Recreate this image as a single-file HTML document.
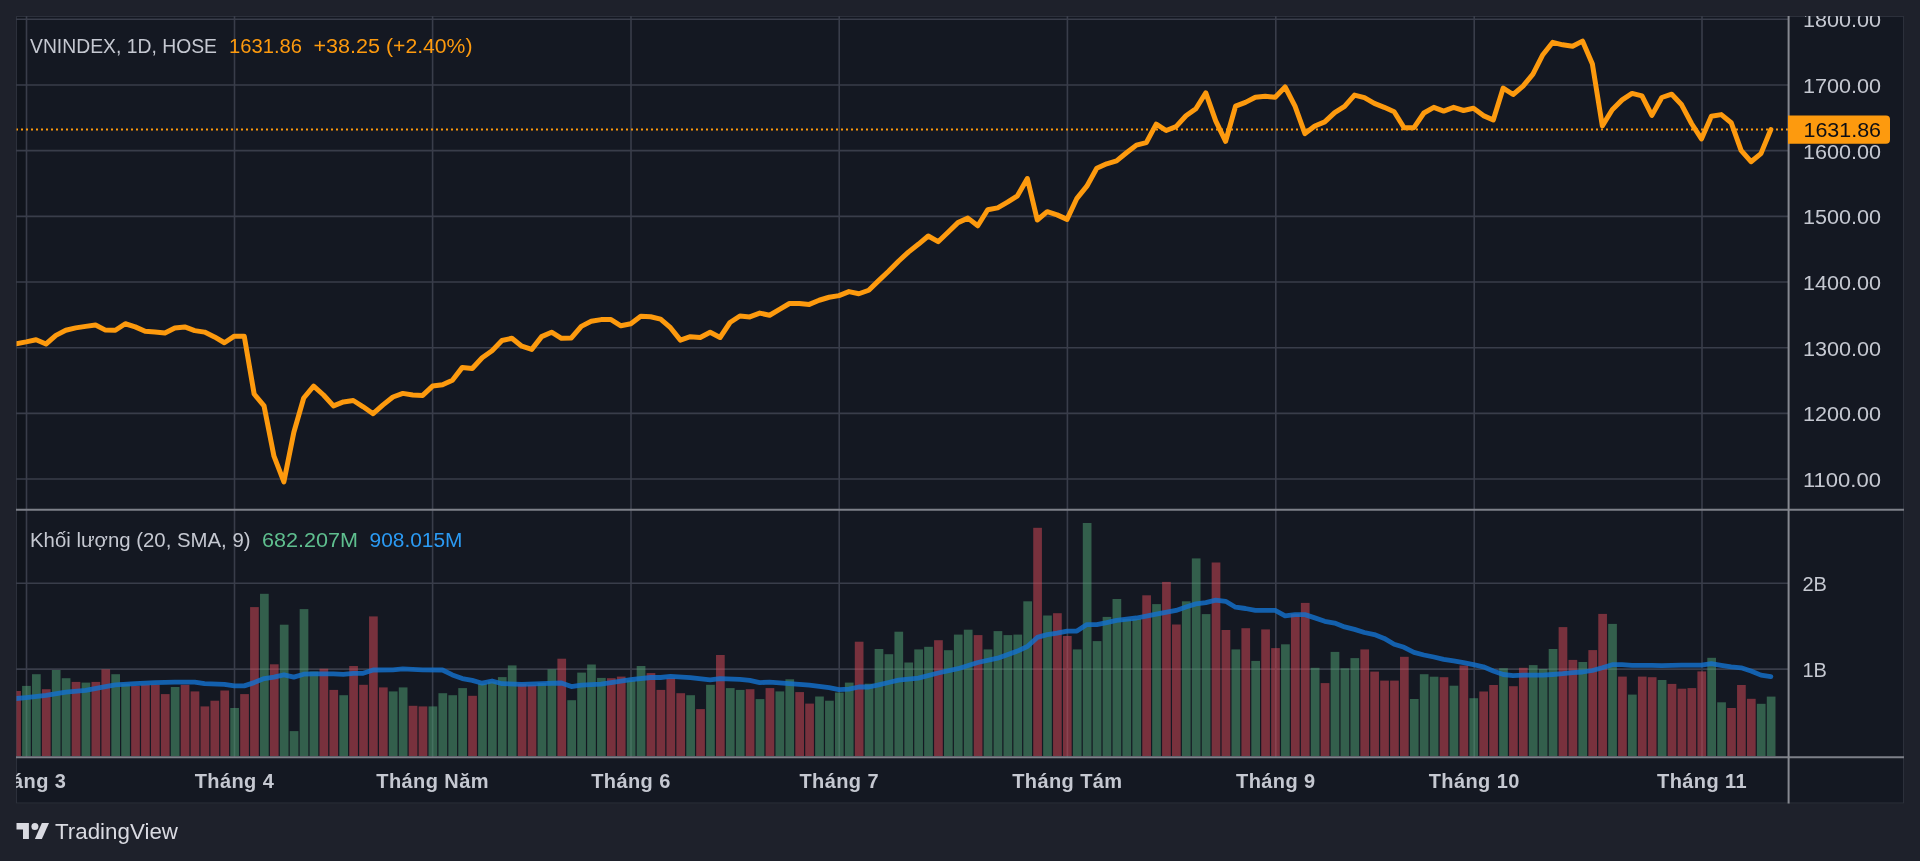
<!DOCTYPE html><html><head><meta charset="utf-8"><style>html,body{margin:0;padding:0;background:#1e212b;width:1920px;height:861px;overflow:hidden}svg{position:absolute;left:0;top:0;display:block;will-change:transform}text{font-family:"Liberation Sans",sans-serif}</style></head><body>
<svg width="1920" height="861" viewBox="0 0 1920 861">
<defs><clipPath id="cp"><rect x="16.5" y="16.5" width="1772" height="740.5"/></clipPath><clipPath id="pp"><rect x="16" y="16" width="1887" height="786"/></clipPath></defs>
<rect x="16" y="16" width="1888" height="787.5" fill="#141822"/>
<rect x="16.5" y="16.5" width="1887" height="786.5" fill="none" stroke="#2c303b" stroke-width="1"/>
<rect x="17" y="17" width="8.7" height="740" fill="rgba(0,0,0,0.16)"/>
<path d="M16 479.05H1788M16 413.37H1788M16 347.69H1788M16 282.01H1788M16 216.33H1788M16 150.65H1788M16 84.97H1788M16 19.29H1788M16 583.30H1788M16 669.10H1788M26.50 16V757M234.50 16V757M432.60 16V757M631.00 16V757M839.20 16V757M1067.40 16V757M1275.80 16V757M1474.20 16V757M1702.00 16V757" stroke="#393d4a" stroke-width="1.6" fill="none"/>
<g clip-path="url(#cp)">
<g fill="rgba(220,74,88,0.5)"><rect x="12.19" y="691.00" width="8.7" height="65.00"/><rect x="41.93" y="689.20" width="8.7" height="66.80"/><rect x="71.67" y="681.90" width="8.7" height="74.10"/><rect x="91.49" y="681.90" width="8.7" height="74.10"/><rect x="101.40" y="669.30" width="8.7" height="86.70"/><rect x="131.14" y="685.90" width="8.7" height="70.10"/><rect x="141.06" y="684.80" width="8.7" height="71.20"/><rect x="150.97" y="684.80" width="8.7" height="71.20"/><rect x="160.88" y="694.10" width="8.7" height="61.90"/><rect x="180.71" y="684.80" width="8.7" height="71.20"/><rect x="190.62" y="691.40" width="8.7" height="64.60"/><rect x="200.53" y="706.40" width="8.7" height="49.60"/><rect x="210.45" y="700.70" width="8.7" height="55.30"/><rect x="220.36" y="690.50" width="8.7" height="65.50"/><rect x="240.19" y="694.10" width="8.7" height="61.90"/><rect x="250.10" y="607.10" width="8.7" height="148.90"/><rect x="269.93" y="664.30" width="8.7" height="91.70"/><rect x="319.49" y="668.70" width="8.7" height="87.30"/><rect x="329.40" y="689.90" width="8.7" height="66.10"/><rect x="349.23" y="666.00" width="8.7" height="90.00"/><rect x="359.14" y="684.80" width="8.7" height="71.20"/><rect x="369.05" y="616.40" width="8.7" height="139.60"/><rect x="378.97" y="687.40" width="8.7" height="68.60"/><rect x="408.71" y="705.80" width="8.7" height="50.20"/><rect x="418.62" y="706.40" width="8.7" height="49.60"/><rect x="468.19" y="695.80" width="8.7" height="60.20"/><rect x="517.75" y="683.70" width="8.7" height="72.30"/><rect x="527.66" y="684.80" width="8.7" height="71.20"/><rect x="557.40" y="658.70" width="8.7" height="97.30"/><rect x="606.97" y="678.20" width="8.7" height="77.80"/><rect x="616.88" y="676.60" width="8.7" height="79.40"/><rect x="646.62" y="673.10" width="8.7" height="82.90"/><rect x="656.53" y="689.90" width="8.7" height="66.10"/><rect x="666.45" y="678.20" width="8.7" height="77.80"/><rect x="676.36" y="693.20" width="8.7" height="62.80"/><rect x="696.18" y="709.10" width="8.7" height="46.90"/><rect x="716.01" y="655.00" width="8.7" height="101.00"/><rect x="745.75" y="689.20" width="8.7" height="66.80"/><rect x="765.58" y="688.10" width="8.7" height="67.90"/><rect x="795.31" y="692.10" width="8.7" height="63.90"/><rect x="805.23" y="703.60" width="8.7" height="52.40"/><rect x="854.79" y="641.70" width="8.7" height="114.30"/><rect x="934.10" y="640.20" width="8.7" height="115.80"/><rect x="973.75" y="635.10" width="8.7" height="120.90"/><rect x="1033.23" y="527.80" width="8.7" height="228.20"/><rect x="1053.05" y="613.20" width="8.7" height="142.80"/><rect x="1062.97" y="636.00" width="8.7" height="120.00"/><rect x="1142.27" y="595.30" width="8.7" height="160.70"/><rect x="1162.10" y="581.90" width="8.7" height="174.10"/><rect x="1172.01" y="624.50" width="8.7" height="131.50"/><rect x="1211.66" y="562.50" width="8.7" height="193.50"/><rect x="1221.57" y="630.00" width="8.7" height="126.00"/><rect x="1241.40" y="628.20" width="8.7" height="127.80"/><rect x="1261.23" y="629.40" width="8.7" height="126.60"/><rect x="1271.14" y="648.10" width="8.7" height="107.90"/><rect x="1290.96" y="614.10" width="8.7" height="141.90"/><rect x="1300.88" y="602.90" width="8.7" height="153.10"/><rect x="1320.70" y="683.10" width="8.7" height="72.90"/><rect x="1360.36" y="649.40" width="8.7" height="106.60"/><rect x="1370.27" y="671.60" width="8.7" height="84.40"/><rect x="1380.18" y="680.60" width="8.7" height="75.40"/><rect x="1390.09" y="680.60" width="8.7" height="75.40"/><rect x="1400.01" y="656.80" width="8.7" height="99.20"/><rect x="1439.66" y="677.20" width="8.7" height="78.80"/><rect x="1459.49" y="665.50" width="8.7" height="90.50"/><rect x="1479.31" y="691.50" width="8.7" height="64.50"/><rect x="1489.22" y="685.00" width="8.7" height="71.00"/><rect x="1509.05" y="686.20" width="8.7" height="69.80"/><rect x="1518.96" y="667.80" width="8.7" height="88.20"/><rect x="1558.62" y="627.10" width="8.7" height="128.90"/><rect x="1568.53" y="659.90" width="8.7" height="96.10"/><rect x="1588.35" y="650.10" width="8.7" height="105.90"/><rect x="1598.27" y="613.90" width="8.7" height="142.10"/><rect x="1618.09" y="676.60" width="8.7" height="79.40"/><rect x="1637.92" y="676.60" width="8.7" height="79.40"/><rect x="1647.83" y="677.20" width="8.7" height="78.80"/><rect x="1667.66" y="683.90" width="8.7" height="72.10"/><rect x="1677.57" y="688.70" width="8.7" height="67.30"/><rect x="1687.48" y="688.10" width="8.7" height="67.90"/><rect x="1697.40" y="671.40" width="8.7" height="84.60"/><rect x="1727.14" y="708.00" width="8.7" height="48.00"/><rect x="1737.05" y="685.00" width="8.7" height="71.00"/><rect x="1746.96" y="698.80" width="8.7" height="57.20"/></g>
<g fill="rgba(82,166,118,0.5)"><rect x="22.10" y="685.90" width="8.7" height="70.10"/><rect x="32.01" y="674.20" width="8.7" height="81.80"/><rect x="51.84" y="670.00" width="8.7" height="86.00"/><rect x="61.75" y="678.20" width="8.7" height="77.80"/><rect x="81.58" y="682.60" width="8.7" height="73.40"/><rect x="111.32" y="674.20" width="8.7" height="81.80"/><rect x="121.23" y="683.70" width="8.7" height="72.30"/><rect x="170.79" y="687.00" width="8.7" height="69.00"/><rect x="230.27" y="708.00" width="8.7" height="48.00"/><rect x="260.01" y="593.80" width="8.7" height="162.20"/><rect x="279.84" y="624.70" width="8.7" height="131.30"/><rect x="289.75" y="731.10" width="8.7" height="24.90"/><rect x="299.66" y="609.10" width="8.7" height="146.90"/><rect x="309.58" y="671.50" width="8.7" height="84.50"/><rect x="339.32" y="695.20" width="8.7" height="60.80"/><rect x="388.88" y="691.40" width="8.7" height="64.60"/><rect x="398.79" y="687.40" width="8.7" height="68.60"/><rect x="428.53" y="706.40" width="8.7" height="49.60"/><rect x="438.45" y="693.20" width="8.7" height="62.80"/><rect x="448.36" y="695.20" width="8.7" height="60.80"/><rect x="458.27" y="688.10" width="8.7" height="67.90"/><rect x="478.10" y="683.70" width="8.7" height="72.30"/><rect x="488.01" y="681.50" width="8.7" height="74.50"/><rect x="497.92" y="677.10" width="8.7" height="78.90"/><rect x="507.84" y="665.40" width="8.7" height="90.60"/><rect x="537.58" y="683.00" width="8.7" height="73.00"/><rect x="547.49" y="669.30" width="8.7" height="86.70"/><rect x="567.32" y="700.20" width="8.7" height="55.80"/><rect x="577.23" y="672.60" width="8.7" height="83.40"/><rect x="587.14" y="664.50" width="8.7" height="91.50"/><rect x="597.05" y="677.90" width="8.7" height="78.10"/><rect x="626.79" y="680.40" width="8.7" height="75.60"/><rect x="636.71" y="666.00" width="8.7" height="90.00"/><rect x="686.27" y="695.20" width="8.7" height="60.80"/><rect x="706.10" y="684.80" width="8.7" height="71.20"/><rect x="725.92" y="688.10" width="8.7" height="67.90"/><rect x="735.84" y="689.90" width="8.7" height="66.10"/><rect x="755.66" y="699.10" width="8.7" height="56.90"/><rect x="775.49" y="691.40" width="8.7" height="64.60"/><rect x="785.40" y="679.30" width="8.7" height="76.70"/><rect x="815.14" y="696.50" width="8.7" height="59.50"/><rect x="825.05" y="700.70" width="8.7" height="55.30"/><rect x="834.97" y="692.50" width="8.7" height="63.50"/><rect x="844.88" y="682.60" width="8.7" height="73.40"/><rect x="864.71" y="683.70" width="8.7" height="72.30"/><rect x="874.62" y="649.00" width="8.7" height="107.00"/><rect x="884.53" y="654.20" width="8.7" height="101.80"/><rect x="894.44" y="631.70" width="8.7" height="124.30"/><rect x="904.36" y="662.50" width="8.7" height="93.50"/><rect x="914.27" y="649.40" width="8.7" height="106.60"/><rect x="924.18" y="646.80" width="8.7" height="109.20"/><rect x="944.01" y="650.20" width="8.7" height="105.80"/><rect x="953.92" y="634.60" width="8.7" height="121.40"/><rect x="963.84" y="629.70" width="8.7" height="126.30"/><rect x="983.66" y="649.40" width="8.7" height="106.60"/><rect x="993.57" y="631.10" width="8.7" height="124.90"/><rect x="1003.49" y="635.10" width="8.7" height="120.90"/><rect x="1013.40" y="634.60" width="8.7" height="121.40"/><rect x="1023.31" y="601.30" width="8.7" height="154.70"/><rect x="1043.14" y="615.50" width="8.7" height="140.50"/><rect x="1072.88" y="649.40" width="8.7" height="106.60"/><rect x="1082.79" y="523.00" width="8.7" height="233.00"/><rect x="1092.70" y="641.10" width="8.7" height="114.90"/><rect x="1102.62" y="616.90" width="8.7" height="139.10"/><rect x="1112.53" y="599.00" width="8.7" height="157.00"/><rect x="1122.44" y="618.90" width="8.7" height="137.10"/><rect x="1132.36" y="618.90" width="8.7" height="137.10"/><rect x="1152.18" y="604.10" width="8.7" height="151.90"/><rect x="1181.92" y="601.30" width="8.7" height="154.70"/><rect x="1191.83" y="558.40" width="8.7" height="197.60"/><rect x="1201.75" y="614.10" width="8.7" height="141.90"/><rect x="1231.49" y="649.40" width="8.7" height="106.60"/><rect x="1251.31" y="660.90" width="8.7" height="95.10"/><rect x="1281.05" y="644.30" width="8.7" height="111.70"/><rect x="1310.79" y="667.80" width="8.7" height="88.20"/><rect x="1330.62" y="651.90" width="8.7" height="104.10"/><rect x="1340.53" y="668.30" width="8.7" height="87.70"/><rect x="1350.44" y="658.10" width="8.7" height="97.90"/><rect x="1409.92" y="699.00" width="8.7" height="57.00"/><rect x="1419.83" y="674.20" width="8.7" height="81.80"/><rect x="1429.75" y="676.70" width="8.7" height="79.30"/><rect x="1449.57" y="685.70" width="8.7" height="70.30"/><rect x="1469.40" y="698.20" width="8.7" height="57.80"/><rect x="1499.14" y="668.20" width="8.7" height="87.80"/><rect x="1528.88" y="665.10" width="8.7" height="90.90"/><rect x="1538.79" y="668.90" width="8.7" height="87.10"/><rect x="1548.70" y="649.00" width="8.7" height="107.00"/><rect x="1578.44" y="662.00" width="8.7" height="94.00"/><rect x="1608.18" y="623.90" width="8.7" height="132.10"/><rect x="1628.01" y="694.60" width="8.7" height="61.40"/><rect x="1657.75" y="680.00" width="8.7" height="76.00"/><rect x="1707.31" y="657.80" width="8.7" height="98.20"/><rect x="1717.22" y="702.30" width="8.7" height="53.70"/><rect x="1756.88" y="703.80" width="8.7" height="52.20"/><rect x="1766.79" y="696.60" width="8.7" height="59.40"/></g>
<polyline points="16.24,698.50 26.15,697.60 45.98,695.40 65.80,692.10 85.63,690.30 105.45,686.60 115.37,684.80 135.19,683.70 155.02,682.60 174.84,682.10 194.67,682.10 204.58,683.70 224.41,684.30 234.32,685.90 244.24,685.90 254.15,682.60 264.06,678.60 273.98,677.10 283.89,674.90 293.80,677.10 303.71,674.20 313.63,673.80 333.45,673.80 343.37,674.40 353.28,673.30 363.19,673.30 373.10,670.00 392.93,669.80 402.84,668.90 422.67,669.80 442.50,670.00 452.41,674.90 462.32,678.60 472.24,680.40 482.15,683.20 492.06,681.00 501.97,683.70 521.80,684.30 541.63,683.70 561.45,683.00 571.37,686.60 581.28,685.20 601.10,684.10 611.02,682.60 630.84,679.70 650.67,677.50 660.58,677.50 670.50,676.40 690.32,677.70 710.15,679.90 720.06,678.60 739.89,679.30 749.80,680.40 759.71,682.60 769.62,682.10 789.45,683.70 809.28,685.20 829.10,687.70 839.02,689.60 848.93,689.20 858.84,687.00 868.75,687.00 878.67,684.80 888.58,682.50 898.49,680.10 918.32,678.10 938.15,673.00 957.97,668.70 977.80,662.50 997.62,658.20 1017.45,651.10 1027.36,646.50 1037.28,637.40 1047.19,634.60 1057.10,633.10 1067.02,631.10 1076.93,631.10 1086.84,624.60 1096.75,624.60 1106.67,622.60 1116.58,620.30 1136.41,618.00 1146.32,616.10 1156.23,614.10 1176.06,610.40 1185.97,607.00 1195.88,603.90 1205.80,602.60 1215.71,600.10 1225.62,601.30 1235.54,607.20 1245.45,608.50 1255.36,610.30 1265.28,610.30 1275.19,610.30 1285.10,615.90 1295.01,614.60 1304.93,614.60 1314.84,617.90 1324.75,621.30 1334.67,623.10 1344.58,626.90 1354.49,629.40 1364.41,632.50 1374.32,634.60 1384.23,638.40 1394.14,644.30 1404.06,647.30 1413.97,652.40 1423.88,655.00 1433.80,657.00 1443.71,659.30 1453.62,660.90 1463.54,662.70 1473.45,664.70 1483.36,666.80 1493.27,671.00 1503.19,674.50 1513.10,675.60 1523.01,675.10 1532.93,675.10 1542.84,675.10 1552.75,674.50 1562.67,673.70 1572.58,672.60 1582.49,672.00 1592.40,670.50 1602.32,667.80 1612.23,664.70 1622.14,664.70 1632.06,665.30 1641.97,665.30 1651.88,665.30 1661.80,665.70 1671.71,665.30 1681.62,665.10 1691.53,665.10 1701.45,665.10 1711.36,663.60 1721.27,665.30 1731.19,666.80 1741.10,667.80 1751.01,671.00 1760.93,675.10 1770.84,676.60" fill="none" stroke="rgba(20,112,204,0.82)" stroke-width="4.8" stroke-linejoin="round" stroke-linecap="round"/>
<line x1="16" y1="129.6" x2="1788" y2="129.6" stroke="#fd9a0e" stroke-width="2" stroke-dasharray="2 3"/>
<polyline points="16.24,343.75 26.15,341.90 36.06,339.75 45.98,344.00 55.89,335.40 65.80,330.25 75.72,327.90 85.63,326.40 95.54,325.00 105.45,330.10 115.37,330.25 125.28,323.75 135.19,326.90 145.11,331.25 155.02,332.00 164.93,333.10 174.84,328.10 184.76,326.90 194.67,330.60 204.58,332.10 214.50,336.90 224.41,342.75 234.32,336.20 244.24,336.20 254.15,394.00 264.06,405.90 273.98,456.20 283.89,481.80 293.80,432.50 303.71,398.00 313.63,386.10 323.54,395.00 333.45,405.90 343.37,401.90 353.28,400.50 363.19,406.80 373.10,413.70 383.02,404.90 392.93,397.00 402.84,393.40 412.76,395.00 422.67,395.40 432.58,386.10 442.50,384.70 452.41,380.20 462.32,367.40 472.24,368.50 482.15,357.70 492.06,350.70 501.97,340.50 511.89,338.30 521.80,346.20 531.71,349.40 541.63,336.60 551.54,332.20 561.45,338.30 571.37,337.90 581.28,326.40 591.19,321.30 601.10,319.60 611.02,319.60 620.93,325.80 630.84,323.80 640.76,316.20 650.67,316.80 660.58,319.10 670.50,327.70 680.41,340.10 690.32,336.70 700.23,337.50 710.15,332.25 720.06,337.50 729.97,322.50 739.89,316.00 749.80,316.90 759.71,313.10 769.62,315.25 779.54,309.40 789.45,303.50 799.36,303.50 809.28,304.40 819.19,300.25 829.10,297.25 839.02,295.60 848.93,291.60 858.84,293.75 868.75,290.25 878.67,280.60 888.58,271.25 898.49,261.25 908.41,252.10 918.32,244.30 928.23,236.00 938.15,241.70 948.06,232.20 957.97,222.60 967.88,218.10 977.80,225.80 987.71,209.80 997.62,207.90 1007.54,202.20 1017.45,195.80 1027.36,178.50 1037.28,220.00 1047.19,211.70 1057.10,214.90 1067.02,219.40 1076.93,198.30 1086.84,186.20 1096.75,168.30 1106.67,163.80 1116.58,160.90 1126.49,152.80 1136.41,145.10 1146.32,142.60 1156.23,124.10 1166.15,130.50 1176.06,126.60 1185.97,115.80 1195.88,108.70 1205.80,92.80 1215.71,120.90 1225.62,141.30 1235.54,106.20 1245.45,102.40 1255.36,97.20 1265.28,96.30 1275.19,97.20 1285.10,87.00 1295.01,106.20 1304.93,133.60 1314.84,126.00 1324.75,121.90 1334.67,112.60 1344.58,106.30 1354.49,95.10 1364.41,97.70 1374.32,103.40 1384.23,107.30 1394.14,111.70 1404.06,127.70 1413.97,127.70 1423.88,113.00 1433.80,107.30 1443.71,111.10 1453.62,107.30 1463.54,110.50 1473.45,108.20 1483.36,115.60 1493.27,120.00 1503.19,88.10 1513.10,94.50 1523.01,86.20 1532.93,74.10 1542.84,54.70 1552.75,42.30 1562.67,44.80 1572.58,46.30 1582.49,41.10 1592.40,64.10 1602.32,125.90 1612.23,109.70 1622.14,99.90 1632.06,93.40 1641.97,95.90 1651.88,115.40 1661.80,97.50 1671.71,94.20 1681.62,104.80 1691.53,123.50 1701.45,138.90 1711.36,116.20 1721.27,114.60 1731.19,122.70 1741.10,150.30 1751.01,161.70 1760.93,153.60 1770.84,129.50" fill="none" stroke="#fd9a0e" stroke-width="5" stroke-linejoin="round" stroke-linecap="round"/>
</g>
<path d="M16 509.8H1904M16 757.2H1904" stroke="#7d8089" stroke-width="2"/>
<path d="M1788.6 16V803.5" stroke="#868991" stroke-width="2"/>
<g clip-path="url(#pp)">
<text x="30" y="52.8" font-size="20" fill="#c5c8d1" textLength="187" lengthAdjust="spacingAndGlyphs">VNINDEX, 1D, HOSE</text>
<text x="229" y="52.8" font-size="20" fill="#fd9a0e" textLength="73" lengthAdjust="spacingAndGlyphs">1631.86</text>
<text x="313.5" y="52.8" font-size="20" fill="#fd9a0e" textLength="66.5" lengthAdjust="spacingAndGlyphs">+38.25</text>
<text x="386" y="52.8" font-size="20" fill="#fd9a0e" textLength="86.5" lengthAdjust="spacingAndGlyphs">(+2.40%)</text>
<text x="30" y="546.6" font-size="20" fill="#c5c8d1" textLength="220.5" lengthAdjust="spacingAndGlyphs">Khối lượng (20, SMA, 9)</text>
<text x="262" y="546.6" font-size="20" fill="#5fbf8f" textLength="96" lengthAdjust="spacingAndGlyphs">682.207M</text>
<text x="369.5" y="546.6" font-size="20" fill="#2b9af3" textLength="93" lengthAdjust="spacingAndGlyphs">908.015M</text>
<text x="1803" y="487.05" font-size="20" fill="#c5c8d1" textLength="78" lengthAdjust="spacingAndGlyphs">1100.00</text>
<text x="1803" y="421.37" font-size="20" fill="#c5c8d1" textLength="78" lengthAdjust="spacingAndGlyphs">1200.00</text>
<text x="1803" y="355.69" font-size="20" fill="#c5c8d1" textLength="78" lengthAdjust="spacingAndGlyphs">1300.00</text>
<text x="1803" y="290.01" font-size="20" fill="#c5c8d1" textLength="78" lengthAdjust="spacingAndGlyphs">1400.00</text>
<text x="1803" y="224.33" font-size="20" fill="#c5c8d1" textLength="78" lengthAdjust="spacingAndGlyphs">1500.00</text>
<text x="1803" y="158.65" font-size="20" fill="#c5c8d1" textLength="78" lengthAdjust="spacingAndGlyphs">1600.00</text>
<text x="1803" y="92.97" font-size="20" fill="#c5c8d1" textLength="78" lengthAdjust="spacingAndGlyphs">1700.00</text>
<text x="1803" y="27.29" font-size="20" fill="#c5c8d1" textLength="78" lengthAdjust="spacingAndGlyphs">1800.00</text>
<path d="M1788 115.5H1886a4 4 0 0 1 4 4V139.8a4 4 0 0 1 -4 4H1788Z" fill="#fd9a0e"/>
<text x="1803.5" y="136.9" font-size="20" fill="#0c0e15" textLength="77.5" lengthAdjust="spacingAndGlyphs">1631.86</text>
<text x="1802.5" y="590.9" font-size="20" fill="#c5c8d1">2B</text>
<text x="1802.5" y="676.6" font-size="20" fill="#c5c8d1">1B</text>
<text x="26.50" y="788.2" font-size="20" font-weight="bold" fill="#c5c8d1" text-anchor="middle" letter-spacing="0.4">Tháng 3</text>
<text x="234.50" y="788.2" font-size="20" font-weight="bold" fill="#c5c8d1" text-anchor="middle" letter-spacing="0.4">Tháng 4</text>
<text x="432.60" y="788.2" font-size="20" font-weight="bold" fill="#c5c8d1" text-anchor="middle" letter-spacing="0.4">Tháng Năm</text>
<text x="631.00" y="788.2" font-size="20" font-weight="bold" fill="#c5c8d1" text-anchor="middle" letter-spacing="0.4">Tháng 6</text>
<text x="839.20" y="788.2" font-size="20" font-weight="bold" fill="#c5c8d1" text-anchor="middle" letter-spacing="0.4">Tháng 7</text>
<text x="1067.40" y="788.2" font-size="20" font-weight="bold" fill="#c5c8d1" text-anchor="middle" letter-spacing="0.4">Tháng Tám</text>
<text x="1275.80" y="788.2" font-size="20" font-weight="bold" fill="#c5c8d1" text-anchor="middle" letter-spacing="0.4">Tháng 9</text>
<text x="1474.20" y="788.2" font-size="20" font-weight="bold" fill="#c5c8d1" text-anchor="middle" letter-spacing="0.4">Tháng 10</text>
<text x="1702.00" y="788.2" font-size="20" font-weight="bold" fill="#c5c8d1" text-anchor="middle" letter-spacing="0.4">Tháng 11</text>
</g>
<g fill="#d9dae1"><path d="M16.5 823H28.9V839.1H23V829.5H16.5Z"/><circle cx="34.9" cy="826.5" r="3.5"/><path d="M41.9 823H49L41.9 839.1H34.9Z"/></g>
<text x="55" y="839.3" font-size="22" fill="#d9dae1" textLength="123" lengthAdjust="spacingAndGlyphs">TradingView</text>
</svg></body></html>
